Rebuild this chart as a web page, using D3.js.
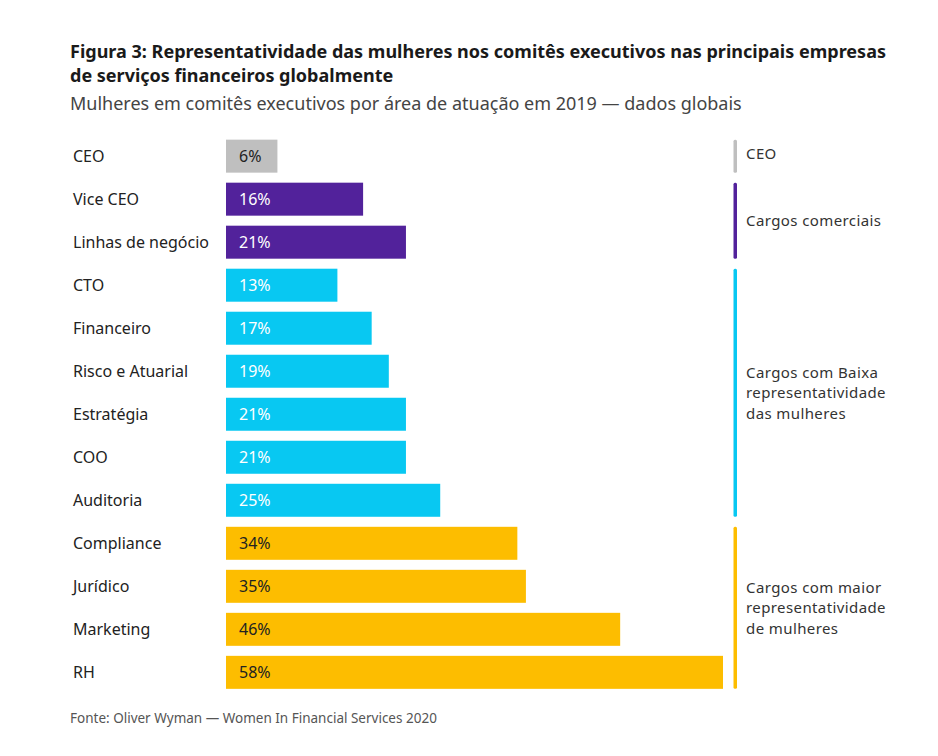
<!DOCTYPE html>
<html><head><meta charset="utf-8">
<script src="https://cdn.jsdelivr.net/npm/d3@7"></script>
<style>body{margin:0;background:#fff}svg{display:block;font-family:"Noto Sans","Open Sans",sans-serif}</style>
</head><body>
<script>
const categories = ["CEO","Vice CEO","Linhas de negócio","CTO","Financeiro","Risco e Atuarial","Estratégia","COO","Auditoria","Compliance","Jurídico","Marketing","RH"];
const values = [6,16,21,13,17,19,21,21,25,34,35,46,58];
const groupOf = [0,1,1,2,2,2,2,2,2,3,3,3,3];
const groupNames = [["CEO"],["Cargos comerciais"],["Cargos com Baixa","representatividade","das mulheres"],["Cargos com maior","representatividade","de mulheres"]];
const groupColors = ["#bfbfbf","#52229b","#08c8f2","#fdbd00"];
const labelColors = ["#222","#fff","#fff","#222"];

const W=938,H=756;
const svg=d3.select("body").append("svg").attr("width",W).attr("height",H);
svg.append("text").attr("x",70).attr("y",58).attr("font-size",18).attr("font-weight",700).attr("fill","#1a1a1a")
  .attr("textLength",816).attr("lengthAdjust","spacingAndGlyphs")
  .text("Figura 3: Representatividade das mulheres nos comitês executivos nas principais empresas");
svg.append("text").attr("x",70).attr("y",82).attr("font-size",18).attr("font-weight",700).attr("fill","#1a1a1a")
  .text("de serviços financeiros globalmente");
svg.append("text").attr("x",70).attr("y",110).attr("font-size",18).attr("fill","#444")
  .text("Mulheres em comitês executivos por área de atuação em 2019 — dados globais");

const x=d3.scaleLinear().domain([0,58]).range([226,723]);
const y=d3.scaleBand().domain(categories).range([134.5,694]).paddingInner(0.233).paddingOuter(0.12);

const rows=svg.append("g");
categories.forEach((c,i)=>{
  const g=groupOf[i];
  rows.append("rect").attr("x",x(0)).attr("y",y(c)).attr("width",x(values[i])-x(0)).attr("height",y.bandwidth()).attr("fill",groupColors[g]);
  rows.append("text").attr("x",73).attr("y",y(c)+y.bandwidth()/2).attr("dy","0.36em").attr("font-size",16).attr("fill","#222").text(c);
  rows.append("text").attr("x",x(0)+13).attr("y",y(c)+y.bandwidth()/2).attr("dy","0.36em").attr("font-size",16).attr("fill",labelColors[g]).text(values[i]+"%");
});

// group brackets
groupNames.forEach((names,g)=>{
  const idx=categories.filter((c,i)=>groupOf[i]===g);
  const top=y(idx[0]), bot=y(idx[idx.length-1])+y.bandwidth();
  svg.append("rect").attr("x",733.5).attr("y",top).attr("width",3.5).attr("height",bot-top).attr("rx",1.5).attr("fill",groupColors[g]);
  const mid=(top+bot)/2, lh=20.5;
  names.forEach((n,k)=>{
    svg.append("text").attr("x",746).attr("font-size",15).attr("letter-spacing","0.4px").attr("fill","#333")
      .attr("y",mid+(k-(names.length-1)/2)*lh - (g===0?3:0)).attr("dy","0.36em").text(n);
  });
});

svg.append("text").attr("x",70).attr("y",723).attr("font-size",13.5).attr("fill","#555")
  .text("Fonte: Oliver Wyman — Women In Financial Services 2020");
</script>
</body></html>
